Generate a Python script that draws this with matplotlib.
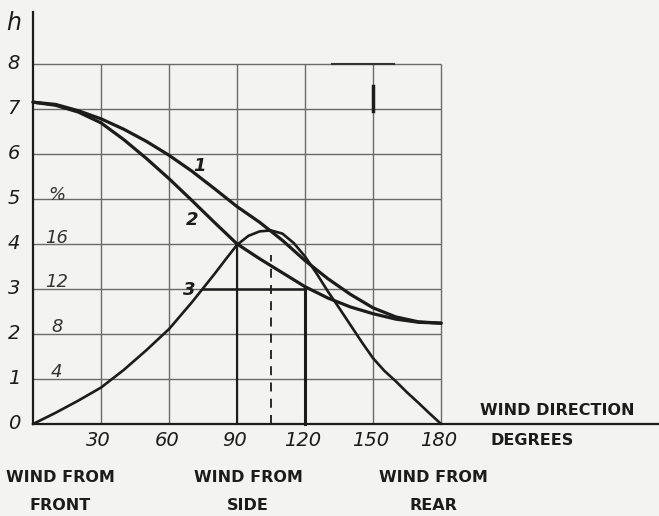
import matplotlib
matplotlib.use("Agg")
import matplotlib.pyplot as plt

# wind direction in degrees, height h for the three curves
deg = [0, 10, 20, 30, 40, 50, 60, 70, 80, 90, 100, 110, 120, 130, 140, 150, 160, 170, 180]
curve1 = [7.15, 7.1, 6.96, 6.78, 6.55, 6.28, 5.97, 5.62, 5.23, 4.83, 4.48, 4.08, 3.63,
          3.23, 2.88, 2.58, 2.38, 2.27, 2.24]
curve2 = [7.15, 7.08, 6.93, 6.69, 6.32, 5.9, 5.45, 4.97, 4.48, 4.0, 3.67, 3.36, 3.05,
          2.8, 2.6, 2.45, 2.33, 2.26, 2.24]
deg3 = [0, 10, 20, 30, 40, 50, 60, 70, 80, 85, 90, 95, 100, 105, 110, 115, 120, 125,
        130, 135, 140, 145, 150, 155, 160, 165, 170, 175, 180]
curve3 = [0, 0.25, 0.52, 0.81, 1.2, 1.64, 2.11, 2.7, 3.33, 3.66, 3.98, 4.18, 4.28, 4.3,
          4.23, 4.02, 3.72, 3.35, 2.95, 2.58, 2.2, 1.82, 1.46, 1.18, 0.95, 0.7, 0.47,
          0.23, 0]

h_ticks = [0, 1, 2, 3, 4, 5, 6, 7, 8]
deg_ticks = [30, 60, 90, 120, 150, 180]
pct_labels = ["4", "8", "12", "16", "%"]
pct_pos = [1.16, 2.16, 3.16, 4.13, 5.09]

# construction lines
level3 = 3.0
level3_from = 75
peak_deg = 105
peak_dash_top = 3.75

ink = "#1c1c1c"
grid = "#6a6a6a"

fig = plt.figure(figsize=(6.59, 5.16), dpi=100, facecolor="#f3f3f1")
ax = fig.add_axes([0, 0, 1, 1])
ax.set_facecolor("#f3f3f1")
ax.set_xlim(-14.56, 276.1)
ax.set_ylim(-2.044, 9.42)
ax.axis("off")

# grid
ax.hlines(h_ticks[1:], 0, 180, color=grid, lw=1.0)
ax.vlines(deg_ticks, 0, 8, color=grid, lw=1.0)
# axes lines
ax.plot([0, 0], [0, 9.15], color=ink, lw=1.6)
ax.plot([0, 276], [0, 0], color=ink, lw=1.6)

# curves
ax.plot(deg, curve1, color=ink, lw=2.3, solid_capstyle="round", solid_joinstyle="round")
ax.plot(deg, curve2, color=ink, lw=2.3, solid_capstyle="round", solid_joinstyle="round")
ax.plot(deg3, curve3, color=ink, lw=1.9, solid_capstyle="round", solid_joinstyle="round")

# construction lines
ax.plot([level3_from, 120], [level3, level3], color=ink, lw=1.8)
ax.plot([120, 120], [0, level3], color=ink, lw=2.2)
ax.plot([90, 90], [0, 4.0], color=ink, lw=1.5)
ax.plot([peak_deg, peak_deg], [0, peak_dash_top], color=ink, lw=1.3, ls=(0, (5, 4)))

# scan marks near the top
ax.plot([150, 150], [6.95, 7.5], color=ink, lw=2.5)
ax.plot([132, 159], [8, 8], color="#333333", lw=1.5)

lab_font = dict(style="italic", color=ink, fontsize=14)
for v in h_ticks:
    ax.text(-8.5, v, str(v), ha="center", va="center", **lab_font)
ax.text(-8.5, 8.9, "h", ha="center", va="center", style="italic", color=ink, fontsize=17)

for v, p in zip(pct_labels, pct_pos):
    ax.text(10.5, p, v, ha="center", va="center", style="italic", color="#333333",
            fontsize=13)

for v in deg_ticks:
    ax.text(v - 1, -0.36, str(v), ha="center", va="center", **lab_font)

ax.text(73.2, 5.73, "1", ha="center", va="center", style="italic", fontweight="bold",
        color=ink, fontsize=13)
ax.text(70.1, 4.53, "2", ha="center", va="center", style="italic", fontweight="bold",
        color=ink, fontsize=13)
ax.text(68.8, 2.98, "3", ha="center", va="center", style="italic", fontweight="bold",
        color=ink, fontsize=13)

cap = dict(color=ink, fontsize=11.5, fontweight="bold", va="center")
ax.text(197.2, 0.31, "WIND DIRECTION", ha="left", **cap)
ax.text(201.6, -0.36, "DEGREES", ha="left", **cap)

ax.text(11.9, -1.18, "WIND FROM", ha="center", **cap)
ax.text(11.9, -1.8, "FRONT", ha="center", **cap)
ax.text(94.8, -1.18, "WIND FROM", ha="center", **cap)
ax.text(94.8, -1.8, "SIDE", ha="center", **cap)
ax.text(176.4, -1.18, "WIND FROM", ha="center", **cap)
ax.text(176.4, -1.8, "REAR", ha="center", **cap)

fig.savefig("out.png", dpi=100, facecolor=fig.get_facecolor())
